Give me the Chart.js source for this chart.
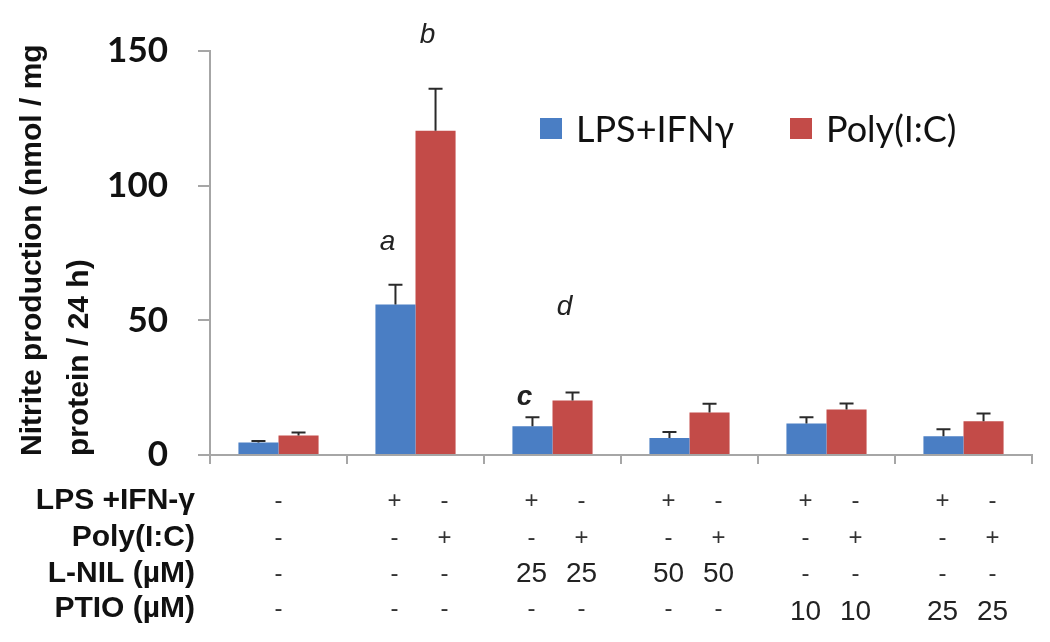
<!DOCTYPE html>
<html>
<head>
<meta charset="utf-8">
<script src="https://cdn.jsdelivr.net/npm/chart.js@4.4.1/dist/chart.umd.min.js"></script>
<style>
html,body{margin:0;padding:0;background:#fff;}
#wrap{width:1050px;height:642px;position:relative;}
</style>
</head>
<body>
<div id="wrap"><canvas id="c"></canvas></div>
<script>
// ---- data ----
const groups = ['Control', 'Stimulated', 'L-NIL 25', 'L-NIL 50', 'PTIO 10', 'PTIO 25'];
const seriesNames = ['LPS+IFNγ', 'Poly(I:C)'];
const lpsValues = [4.6, 55.9, 10.7, 6.3, 11.7, 7.0];
const lpsErrors = [0.6, 7.3, 3.3, 2.2, 2.3, 2.6];
const polyValues = [7.2, 120.4, 20.2, 15.8, 16.9, 12.5];
const polyErrors = [1.2, 15.6, 3.0, 3.2, 2.2, 2.9];
const yTicks = [0, 50, 100, 150];
const yTitle = ['Nitrite production (nmol / mg', 'protein / 24 h)'];

const rowLabels = ['LPS +IFN-γ', 'Poly(I:C)', 'L-NIL (µM)', 'PTIO (µM)'];
const colGroup = [0, 1, 1, 2, 2, 3, 3, 4, 4, 5, 5];
const colSide = [0, -1, 1, -1, 1, -1, 1, -1, 1, -1, 1];
const lpsRow = ['-', '+', '-', '+', '-', '+', '-', '+', '-', '+', '-'];
const polyRow = ['-', '-', '+', '-', '+', '-', '+', '-', '+', '-', '+'];
const lnilRow = ['-', '-', '-', '25', '25', '50', '50', '-', '-', '-', '-'];
const ptioRow = ['-', '-', '-', '-', '-', '-', '-', '10', '10', '25', '25'];
const tableRows = [lpsRow, polyRow, lnilRow, ptioRow];

const sigLetters = ['a', 'b', 'c', 'd'];
const sigGroup = [1, 1, 2, 2];
const sigSeries = [0, 1, 0, 1];
const sigValue = [79, 156, 21.5, 55];
const sigBold = [false, false, true, false];

// ---- plugins ----
const errorBars = {
  id: 'errorBars',
  afterDatasetsDraw(chart) {
    const ctx = chart.ctx;
    const errs = [lpsErrors, polyErrors];
    const y = chart.scales.y;
    ctx.save();
    ctx.strokeStyle = '#2a2a2a';
    ctx.lineWidth = 2;
    chart.data.datasets.forEach((ds, di) => {
      const meta = chart.getDatasetMeta(di);
      meta.data.forEach((bar, i) => {
        const top = y.getPixelForValue(ds.data[i] + errs[di][i]);
        const x = bar.x;
        ctx.beginPath();
        ctx.moveTo(x, bar.y);
        ctx.lineTo(x, top);
        ctx.moveTo(x - 7, top);
        ctx.lineTo(x + 7, top);
        ctx.stroke();
      });
    });
    ctx.restore();
  }
};

const extras = {
  id: 'extras',
  afterDraw(chart) {
    const ctx = chart.ctx;
    const x = chart.scales.x, y = chart.scales.y;
    ctx.save();
    // y-axis title
    ctx.fillStyle = '#111';
    ctx.font = 'bold 30px "Liberation Sans", Arial, sans-serif';
    ctx.textAlign = 'left';
    ctx.textBaseline = 'alphabetic';
    [41, 88].forEach((bx, i) => {
      ctx.save();
      ctx.translate(bx, 456);
      ctx.rotate(-Math.PI / 2);
      ctx.fillText(yTitle[i], 0, 0);
      ctx.restore();
    });
    // legend
    ctx.font = '36px Lato, "Open Sans", sans-serif';
    ctx.textBaseline = 'middle';
    const legX = [540, 790];
    chart.data.datasets.forEach((ds, i) => {
      ctx.fillStyle = ds.backgroundColor;
      ctx.fillRect(legX[i], 118, 22, 21);
      ctx.fillStyle = '#111';
      ctx.fillText(ds.label, legX[i] + 36, 130);
    });
    // significance letters
    ctx.textAlign = 'center';
    ctx.textBaseline = 'middle';
    sigLetters.forEach((t, i) => {
      const meta = chart.getDatasetMeta(sigSeries[i]);
      const bx = meta.data[sigGroup[i]].x;
      ctx.font = (sigBold[i] ? 'italic bold ' : 'italic ') + '28px "Liberation Sans", Arial, sans-serif';
      ctx.fillStyle = '#222';
      ctx.fillText(t, bx - 8, y.getPixelForValue(sigValue[i]));
    });
    // table
    const rowY = [501, 538, 574, 609];
    ctx.textAlign = 'right';
    ctx.font = 'bold 30px "Liberation Sans", Arial, sans-serif';
    ctx.fillStyle = '#111';
    rowLabels.forEach((l, r) => ctx.fillText(l, 195, rowY[r]));
    ctx.textAlign = 'center';
    tableRows.forEach((row, r) => {
      row.forEach((v, c) => {
        const gx = x.getPixelForValue(colGroup[c]);
        const off = colSide[c] === 0 ? 0 : (colSide[c] < 0 ? -21 : 29);
        const isNum = /\d/.test(v);
        ctx.font = (isNum ? '28px' : '24px') + ' "Liberation Sans", Arial, sans-serif';
        ctx.fillStyle = isNum ? '#222' : '#333';
        ctx.fillText(v, gx + off, rowY[r] + (isNum && r === 3 ? 3 : 0));
      });
    });
    ctx.restore();
  }
};

new Chart(document.getElementById('c'), {
  type: 'bar',
  data: {
    labels: groups,
    datasets: [
      { label: seriesNames[0], data: lpsValues, backgroundColor: '#4a7ec4', borderWidth: 0 },
      { label: seriesNames[1], data: polyValues, backgroundColor: '#c34b48', borderWidth: 0 }
    ]
  },
  options: {
    responsive: true,
    maintainAspectRatio: false,
    animation: false,
    layout: { padding: { top: 47, right: 18, left: 0, bottom: 0 } },
    plugins: { legend: { display: false }, tooltip: { enabled: false } },
    datasets: { bar: { categoryPercentage: 0.585, barPercentage: 1.0 } },
    scales: {
      x: {
        grid: { drawOnChartArea: false, drawTicks: true, tickLength: 9, color: '#a6a6a6', lineWidth: 2 },
        border: { color: '#a6a6a6', width: 2 },
        ticks: { callback: () => '' },
        afterFit(s) { s.height = 187; }
      },
      y: {
        min: 0, max: 150,
        afterBuildTicks(s) { s.ticks = yTicks.map(v => ({ value: v })); },
        grid: { drawOnChartArea: false, drawTicks: true, tickLength: 12, color: '#a6a6a6', lineWidth: 2 },
        border: { color: '#a6a6a6', width: 2 },
        ticks: { color: '#111', padding: 30, font: { family: 'Lato', weight: 'bold', size: 35 } },
        afterFit(s) { s.width = 210; }
      }
    }
  },
  plugins: [errorBars, extras]
});
</script>
</body>
</html>
